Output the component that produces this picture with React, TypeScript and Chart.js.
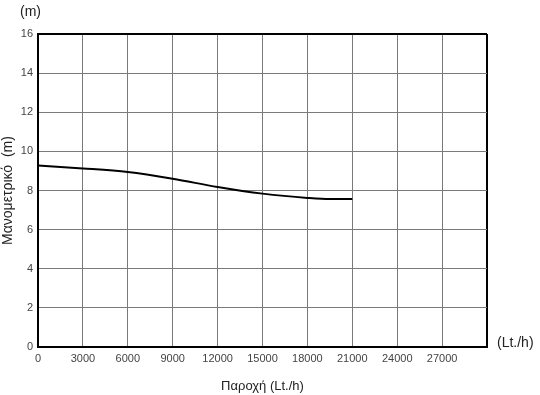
import React, { useEffect, useRef } from "react";
import { Chart, registerables } from "chart.js";

Chart.register(...registerables);

const flowValues = [0, 3000, 6000, 9000, 12000, 15000, 18000, 19500, 21000];
const headValues = [9.28, 9.13, 8.94, 8.6, 8.18, 7.84, 7.62, 7.56, 7.56];
const yTitle = "Μανομετρικό  (m)";
const xTitle = "Παροχή (Lt./h)";
const yUnit = "(m)";
const xUnit = "(Lt./h)";

const FONT = "Arial, 'Liberation Sans', sans-serif";

export default function App() {
  const ref = useRef<HTMLCanvasElement>(null);
  useEffect(() => {
    document.body.style.margin = "0";
    const unitPlugin = {
      id: "units",
      afterDraw(chart: any) {
        const ctx = chart.ctx;
        ctx.save();
        ctx.fillStyle = "#222";
        ctx.font = `14px ${FONT}`;
        ctx.textBaseline = "middle";
        ctx.textAlign = "left";
        ctx.fillText(yUnit, 20, 12);
        ctx.fillText(xUnit, 497, 343);
        ctx.restore();
      },
    };
    const chart = new Chart(ref.current!, {
      type: "scatter",
      data: {
        datasets: [
          {
            data: flowValues.map((x, i) => ({ x, y: headValues[i] })),
            showLine: true,
            borderColor: "#000",
            borderWidth: 2,
            pointRadius: 0,
            cubicInterpolationMode: "monotone",
            fill: false,
          },
        ],
      },
      options: {
        animation: false,
        responsive: false,
        layout: { padding: { left: 0, right: 53, top: 34, bottom: 0 } },
        plugins: { legend: { display: false }, tooltip: { enabled: false } },
        scales: {
          x: {
            type: "linear",
            min: 0,
            max: 30000,
            afterFit: (s: any) => { s.height = 48; },
            ticks: {
              stepSize: 3000,
              autoSkip: false,
              maxRotation: 0,
              color: "#444",
              font: { size: 11, family: FONT },
              padding: 5,
              callback: (v: any) => (v === 30000 ? "" : String(v)),
            },
            grid: {
              drawTicks: false,
              color: (c: any) => (c.tick && c.tick.value === 30000 ? "#000" : "#7a7a7a"),
              lineWidth: (c: any) => (c.tick && c.tick.value === 30000 ? 2 : 1),
            },
            border: { display: true, color: "#000", width: 2 },
            title: {
              display: true,
              text: xTitle,
              color: "#222",
              font: { size: 13, family: FONT },
              padding: { top: 0, bottom: 1 },
            },
          },
          y: {
            min: 0,
            max: 16,
            afterFit: (s: any) => { s.width = 38; },
            ticks: {
              stepSize: 2,
              color: "#444",
              font: { size: 11, family: FONT },
              padding: 5,
            },
            grid: {
              drawTicks: false,
              color: (c: any) => (c.tick && c.tick.value === 16 ? "#000" : "#7a7a7a"),
              lineWidth: (c: any) => (c.tick && c.tick.value === 16 ? 2 : 1),
            },
            border: { display: true, color: "#000", width: 2 },
            title: {
              display: true,
              text: yTitle,
              color: "#222",
              font: { size: 14, family: FONT },
              padding: { top: 0, bottom: 0 },
            },
          },
        },
      },
      plugins: [unitPlugin],
    } as any);
    return () => chart.destroy();
  }, []);
  return (
    <div style={{ position: "absolute", left: 0, top: 0, width: 540, height: 395 }}>
      <canvas ref={ref} width={540} height={395} style={{ width: 540, height: 395 }} />
    </div>
  );
}
